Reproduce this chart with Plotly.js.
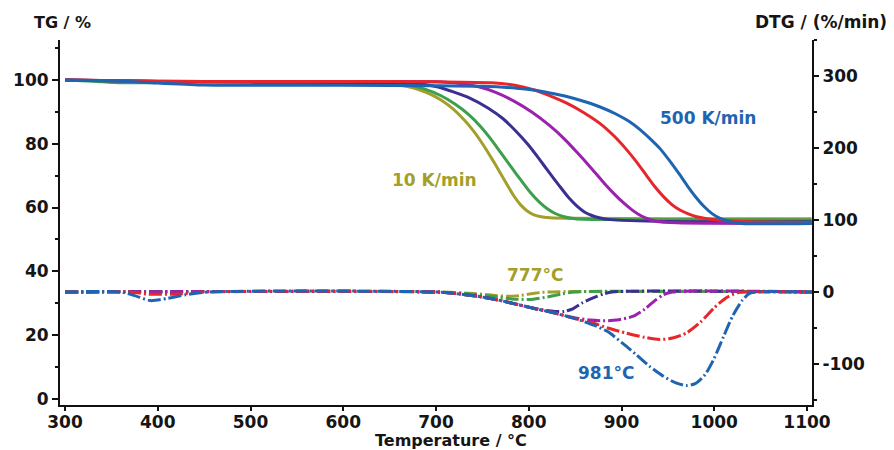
<!DOCTYPE html>
<html>
<head>
<meta charset="utf-8">
<script src="https://cdn.plot.ly/plotly-3.0.1.min.js"></script>
<style>html,body{margin:0;padding:0;background:#fff;}#chart{width:894px;height:450px;}</style>
</head>
<body>
<div id="chart"></div>
<script>
// Heating rates (series names)
const rates = ['10 K/min', '20 K/min', '50 K/min', '100 K/min', '200 K/min', '500 K/min'];

// TG curves (temperature °C, mass %)
const tgT10 = [300,400,500,600,640,660,675,690,705,718,730,741,751,760,769,777,784,791,798,805,812,823,850,950,1105];
const tg10  = [100,99.5,99.3,99.2,99.0,98.4,97.5,96.0,93.8,91.0,87.6,83.8,79.6,75.4,71.0,67.0,63.6,60.9,59.0,57.8,57.2,56.8,56.6,56.5,56.5];
const tgT20 = [300,330,360,390,420,500,600,650,670,688,705,720,735,748,759,770,781,792,802,812,820,828,837,850,900,1105];
const tg20  = [100,99.6,99.1,99.1,99.3,99.3,99.2,99.0,98.4,97.1,95.1,92.5,89.2,85.4,81.5,77.1,72.7,68.4,64.6,61.5,59.6,58.2,57.2,56.5,56.2,56.1];
const tgT50 = [300,400,500,600,680,700,718,737,756,772,786,799,811,822,833,843,852,860,868,876,888,950,1105];
const tg50  = [100,99.5,99.3,99.2,98.9,97.9,96.3,94.2,91.2,87.9,84.0,79.8,75.3,71.0,66.8,63.1,60.4,58.6,57.5,56.8,56.2,55.6,55.5];
const tgT100 = [300,400,500,600,700,725,745,765,785,804,822,838,852,866,879,891,902,912,921,929,937,960,1105];
const tg100  = [100,99.6,99.5,99.5,99.4,98.9,97.9,96.0,93.2,89.8,85.8,81.6,77.3,72.8,68.4,64.6,61.5,59.1,57.4,56.4,55.7,55.2,55.0];
const tgT200 = [300,400,500,600,700,760,785,805,823,841,859,877,892,905,917,927,936,945,954,963,972,981,1003,1040,1105];
const tg200  = [100,99.6,99.5,99.5,99.4,99.1,98.3,96.9,95.0,92.7,89.8,86.3,82.4,78.3,74.0,70.0,66.5,63.5,61.0,59.2,58.0,57.1,56.1,55.5,55.3];
const tgT500 = [300,350,400,450,500,600,700,750,787,805,823,841,859,877,894,908,920,931,942,952,962,971,980,989,998,1007,1016,1030,1105];
const tg500  = [100,99.7,99.0,98.4,98.3,98.3,98.2,98.0,97.4,96.8,95.9,94.8,93.3,91.5,89.3,87.0,84.4,81.5,78.3,74.6,70.6,66.8,63.3,60.3,58.0,56.5,55.6,55.0,55.0];

// DTG curves (temperature °C, %/min)
const dtgT10 = [300,700,740,765,777,790,805,820,1105];
const dtg10  = [0,0,-2,-5,-6,-5,-2,0,0];
const dtgT20 = [300,700,730,760,785,805,820,835,850,1105];
const dtg20  = [0,0,-2,-6,-10,-10,-7,-3,0,0];
const dtgT50 = [300,700,720,745,770,790,810,828,838,848,858,870,880,890,1105];
const dtg50  = [0,0,-2,-6,-12,-18,-24,-27,-27,-23,-15,-8,-3,0,0];
const dtgT100 = [300,700,720,745,770,790,810,830,850,866,880,895,912,925,935,945,955,1105];
const dtg100  = [0,0,-2,-6,-12,-18,-24,-30,-36,-39,-40,-39,-34,-24,-13,-4,0,0];
const dtgT200 = [300,370,390,420,450,700,720,745,770,790,810,830,850,869,885,905,925,941,955,970,985,1000,1013,1025,1035,1105];
const dtg200  = [0,0,-3,-3,0,0,-2,-6,-12,-18,-24,-30,-37,-43,-50,-57,-63,-66,-64,-57,-42,-22,-8,-1,0,0];
const dtgT500 = [300,360,375,392,410,430,455,700,720,745,770,790,810,830,850,870,885,900,915,930,945,958,970,980,990,1000,1010,1020,1030,1038,1045,1105];
const dtg500  = [0,0,-5,-12,-9,-4,0,0,-2,-6,-12,-18,-24,-30,-37,-46,-55,-70,-86,-103,-117,-126,-130,-127,-115,-92,-62,-33,-12,-2,0,0];

// Axis ticks
const xTicks = [300,400,500,600,700,800,900,1000,1100];
const tgTicks = [0,20,40,60,80,100];
const dtgTicks = [-100,0,100,200,300];

// Styles
const colors = ['#a39f2a', '#3b9f4c', '#3a2f92', '#9a22ad', '#e6262b', '#1f64b1'];
const tgX = [tgT10, tgT20, tgT50, tgT100, tgT200, tgT500];
const tgY = [tg10, tg20, tg50, tg100, tg200, tg500];
const dtgX = [dtgT10, dtgT20, dtgT50, dtgT100, dtgT200, dtgT500];
const dtgY = [dtg10, dtg20, dtg50, dtg100, dtg200, dtg500];

const traces = [];
for (let i = 0; i < rates.length; i++) {
  traces.push({
    x: tgX[i], y: tgY[i], type: 'scatter', mode: 'lines', name: 'TG ' + rates[i],
    line: {color: colors[i], width: 3, shape: 'spline', smoothing: 0.7},
    yaxis: 'y', hoverinfo: 'skip'
  });
}
for (let i = 0; i < rates.length; i++) {
  traces.push({
    x: dtgX[i], y: dtgY[i], type: 'scatter', mode: 'lines', name: 'DTG ' + rates[i],
    line: {color: colors[i], width: 3, shape: 'spline', smoothing: 0.7, dash: '13px,3px,2px,3px'},
    yaxis: 'y2', hoverinfo: 'skip'
  });
}

const tickFont = {family: 'DejaVu Sans', size: 17, color: '#151515', weight: 'bold'};
const labFont = {family: 'DejaVu Sans', size: 16, weight: 'bold'};

const layout = {
  width: 894, height: 450,
  margin: {l: 60, r: 82, t: 40, b: 45, pad: 0},
  paper_bgcolor: '#ffffff', plot_bgcolor: '#ffffff',
  showlegend: false,
  xaxis: {
    range: [294.6, 1105.4], tickmode: 'array', tickvals: xTicks, ticktext: xTicks.map(String),
    showgrid: false, zeroline: false, showline: true, linecolor: '#111', linewidth: 2,
    ticks: 'outside', ticklen: 4, tickwidth: 2, tickcolor: '#111', tickfont: tickFont,
    ticklabelstandoff: -3
  },
  yaxis: {
    range: [-1.9, 112.5], tickmode: 'array', tickvals: tgTicks, ticktext: tgTicks.map(String),
    showgrid: false, zeroline: false, showline: true, linecolor: '#111', linewidth: 2,
    ticks: 'outside', ticklen: 6, tickwidth: 2, tickcolor: '#111', tickfont: tickFont,
    minor: {tickmode: 'linear', tick0: 0, dtick: 10, ticks: 'outside', ticklen: 3, tickwidth: 2, tickcolor: '#111', showgrid: false}
  },
  yaxis2: {
    overlaying: 'y', side: 'right',
    range: [-157, 350], tickmode: 'array', tickvals: dtgTicks, ticktext: dtgTicks.map(String),
    showgrid: false, zeroline: false, showline: true, linecolor: '#111', linewidth: 2,
    ticks: 'outside', ticklen: 5, tickwidth: 2, tickcolor: '#111', tickfont: tickFont,
    minor: {tickmode: 'linear', tick0: 0, dtick: 50, ticks: 'outside', ticklen: 3, tickwidth: 2, tickcolor: '#111', showgrid: false}
  },
  annotations: [
    {text: 'TG / %', xref: 'paper', yref: 'paper', x: -0.0372, y: 1.0493, xanchor: 'left', yanchor: 'middle', showarrow: false, font: Object.assign({color: '#151515'}, labFont)},
    {text: 'DTG / (%/min)', xref: 'paper', yref: 'paper', x: 0.9211, y: 1.048, xanchor: 'left', yanchor: 'middle', showarrow: false, font: Object.assign({color: '#151515'}, labFont, {size: 17})},
    {text: 'Temperature / °C', xref: 'paper', yref: 'paper', x: 0.52, y: -0.0985, xanchor: 'center', yanchor: 'middle', showarrow: false, font: Object.assign({color: '#151515'}, labFont)},
    {text: '500 K/min', xref: 'x', yref: 'y', x: 993, y: 88.2, xanchor: 'center', yanchor: 'middle', showarrow: false, font: Object.assign({}, labFont, {size: 17, color: colors[5]})},
    {text: '10 K/min', xref: 'x', yref: 'y', x: 698, y: 68.7, xanchor: 'center', yanchor: 'middle', showarrow: false, font: Object.assign({}, labFont, {size: 17, color: colors[0]})},
    {text: '777°C', xref: 'x', yref: 'y', x: 806.7, y: 39.0, xanchor: 'center', yanchor: 'middle', showarrow: false, font: Object.assign({}, labFont, {size: 17, color: colors[0]})},
    {text: '981°C', xref: 'x', yref: 'y', x: 883.3, y: 8.0, xanchor: 'center', yanchor: 'middle', showarrow: false, font: Object.assign({}, labFont, {size: 17, color: colors[5]})}
  ]
};

Plotly.newPlot('chart', traces, layout, {staticPlot: true, displayModeBar: false});
</script>
</body>
</html>
